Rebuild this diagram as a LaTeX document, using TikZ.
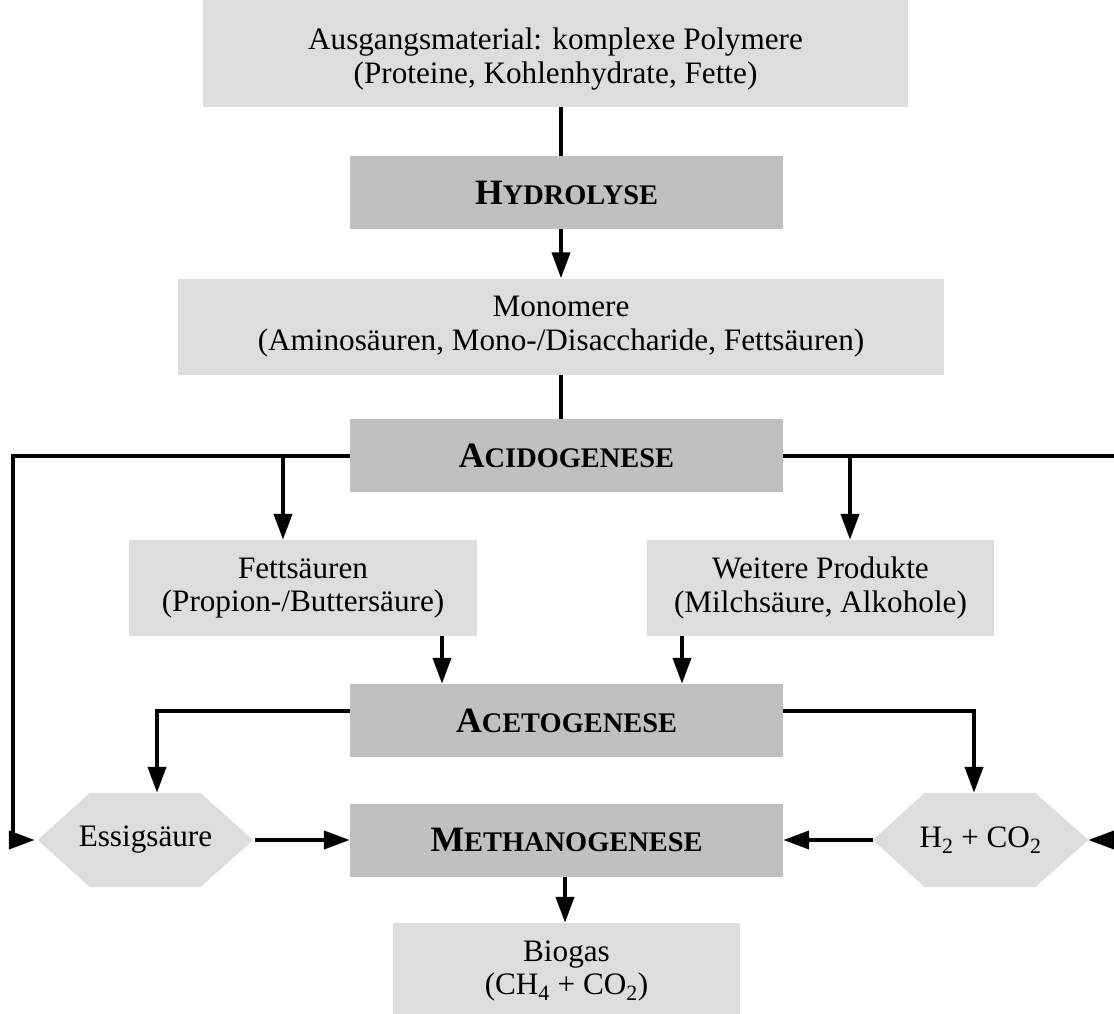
\documentclass[tikz,border=0pt]{standalone}
\usepackage{fontspec}
\setmainfont{Liberation Serif}
\usetikzlibrary{arrows.meta,backgrounds,calc}
\definecolor{lightbox}{HTML}{DDDDDD}
\definecolor{darkbox}{HTML}{C0C0C0}
\newcommand{\phase}[2]{\textbf{{\fontsize{35.7}{40}\selectfont #1}{\fontsize{28.4}{33}\selectfont #2}}}
\tikzset{
  every node/.style={font=\fontsize{31.2}{33.5}\selectfont, align=center, inner sep=0pt},
  lbox/.style={fill=lightbox, minimum width=#1, minimum height=96pt},
  dbox/.style={fill=darkbox, minimum width=433pt, minimum height=73pt},
  hexn/.style={minimum width=215pt, minimum height=94pt},
  conn/.style={line width=4pt},
  arr/.style={line width=4pt, -{Triangle[length=26pt,width=18pt]}}
}
\begin{document}
\begin{tikzpicture}[x=1pt,y=-1pt]
\clip (0,0) rectangle (1114,1014);
% boxes
\node[lbox=705pt] (top) at (555.5,59) {Ausgangsmaterial: komplexe Polymere\\(Proteine, Kohlenhydrate, Fette)};
\node[dbox] (hyd) at (566.5,192.5) {\phase{H}{YDROLYSE}};
\node[lbox=766pt] (mono) at (561,326.5) {Monomere\\(Aminosäuren, Mono-/Disaccharide, Fettsäuren)};
\node[dbox] (acid) at (566.5,455.5) {\phase{A}{CIDOGENESE}};
\node[lbox=348pt] (fett) at (303,588) {Fettsäuren\\(Propion-/Buttersäure)};
\node[lbox=347pt] (weit) at (820.5,588) {Weitere Produkte\\(Milchsäure, Alkohole)};
\node[dbox] (aceto) at (566.5,720.5) {\phase{A}{CETOGENESE}};
\node[dbox] (meth) at (566.5,840) {\phase{M}{ETHANOGENESE}};
\node[lbox=347pt] (bio) at (566.5,971) {Biogas\\(CH\textsubscript{4} + CO\textsubscript{2})};
\node[hexn] (essig) at (145.5,840) {Essigsäure};
\node[hexn] (h2) at (980.5,840) {H\textsubscript{2} + CO\textsubscript{2}};
\begin{scope}[on background layer]
\fill[lightbox] (top.north west) rectangle ([yshift=20pt]top.north east);
\foreach \h in {essig,h2}{
  \fill[lightbox] (\h.west) -- ([xshift=52pt]\h.north west) -- ([xshift=-53pt]\h.north east) -- (\h.east) -- ([xshift=-53pt]\h.south east) -- ([xshift=52pt]\h.south west) -- cycle;
}
\end{scope}
% helper coordinates
\coordinate (cx) at (561,0);
\coordinate (la) at (13,456);
\coordinate (ra) at (1120,456);
\coordinate (lf) at (283,456);
\coordinate (rw) at (850,456);
\coordinate (lc) at (157,711);
\coordinate (rc) at (974,711);
% connectors
\draw[conn] (top.south -| cx) -- (hyd.north -| cx);
\draw[arr] (hyd.south -| cx) -- (mono.north -| cx);
\draw[conn] (mono.south -| cx) -- (acid.north -| cx);
\draw[arr] (acid.west |- la) -- (la) -- (la |- essig.west) -- ([xshift=-3pt]essig.west);
\draw[arr] (acid.east |- ra) -- (ra) -- (ra |- h2.east) -- (h2.east);
\draw[arr] (lf) -- (lf |- fett.north);
\draw[arr] (rw) -- (rw |- weit.north);
\draw[arr] (442,0 |- fett.south) -- (442,0 |- aceto.north);
\draw[arr] (682,0 |- weit.south) -- (682,0 |- aceto.north);
\draw[arr] (aceto.west |- lc) -- (lc) -- (lc |- essig.north);
\draw[arr] (aceto.east |- rc) -- (rc) -- (rc |- h2.north);
\draw[arr] ([xshift=2pt]essig.east) -- (meth.west);
\draw[arr] (h2.west) -- (meth.east);
\draw[arr] (565,0 |- meth.south) -- (565,0 |- bio.north);
\end{tikzpicture}
\end{document}
